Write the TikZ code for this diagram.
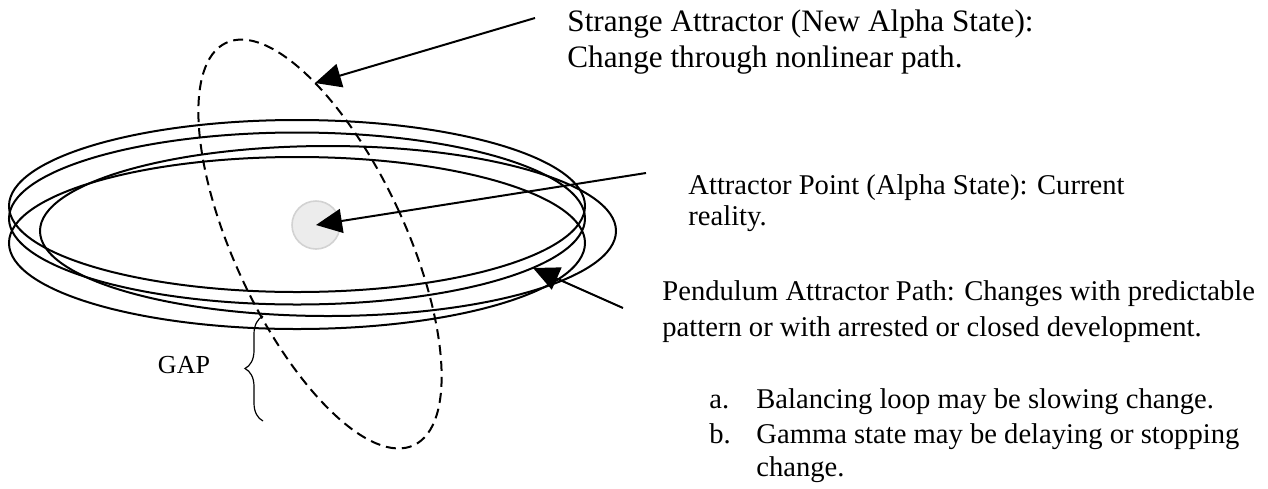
\documentclass[tikz,border=0pt]{standalone}
\usepackage{fontspec}
\setmainfont{Liberation Serif}
\usetikzlibrary{arrows.meta,decorations.pathreplacing}
\begin{document}
\begin{tikzpicture}[x=0.5pt,y=-0.5pt,
  orbit/.style={line width=1pt},
  strange/.style={line width=1pt, dash pattern=on 5pt off 3pt},
  pointer/.style={line width=1pt, -{Triangle[length=13pt,width=12pt]}},
  big/.style={font=\fontsize{15.6pt}{18pt}\selectfont, anchor=base west, inner sep=0pt},
  lbl/.style={font=\fontsize{14.3pt}{17pt}\selectfont, anchor=base west, inner sep=0pt},
  gapstyle/.style={font=\fontsize{13pt}{15pt}\selectfont, inner sep=0pt},
  bracestyle/.style={line width=0.6pt, decorate, decoration={brace, amplitude=9pt}},
  dotstyle/.style={circle, minimum size=24pt, inner sep=0pt, fill=gray!15, draw=gray!35, line width=0.8pt}
]
\useasboundingbox (0,0) rectangle (1268,488);

% pendulum orbits
\draw[orbit] (297,206) ellipse [x radius=288, y radius=86];
\draw[orbit] (297,218.5) ellipse [x radius=288, y radius=86];
\draw[orbit] (297,243) ellipse [x radius=288, y radius=86];
\draw[orbit] (328,231) ellipse [x radius=288, y radius=85];

% strange attractor (dashed)
\draw[strange, rotate around={25:(320,244)}] (320,244) ellipse [x radius=85.4, y radius=222];

% attractor point
\node[dotstyle] (dot) at (316,225) {};

% GAP brace
\coordinate (gb) at (263,421);
\coordinate (gt) at (263,316);
\draw[bracestyle] (gb) -- (gt);
\node[gapstyle] (gap) at (184,365) {GAP};

% texts
\node[big] (s1) at (567,31) {Strange Attractor (New Alpha State):};
\node[big] (s2) at (567,67) {Change through nonlinear path.};
\node[lbl] (p1) at (688,194) {Attractor Point (Alpha State): Current};
\node[lbl] (p2) at (688,225) {reality.};
\node[lbl] (q1) at (662,300) {Pendulum Attractor Path: Changes with predictable};
\node[lbl] (q2) at (662,336) {pattern or with arrested or closed development.};
\node[lbl] (la) at (709,408) {a.};
\node[lbl] (ta) at (756,408) {Balancing loop may be slowing change.};
\node[lbl] (lb) at (709,443) {b.};
\node[lbl] (tb) at (756,443) {Gamma state may be delaying or stopping};
\node[lbl] (tc) at (756,476) {change.};

% pointers
\coordinate (sA) at (535,18);
\coordinate (tA) at (315,83);
\draw[pointer] (sA) -- (tA);
\coordinate (sB) at (646,173);
\draw[pointer] (sB) -- (dot.center);
\coordinate (sC) at (623,308);
\coordinate (tC) at (533,268);
\draw[pointer] (sC) -- (tC);
\end{tikzpicture}
\end{document}
